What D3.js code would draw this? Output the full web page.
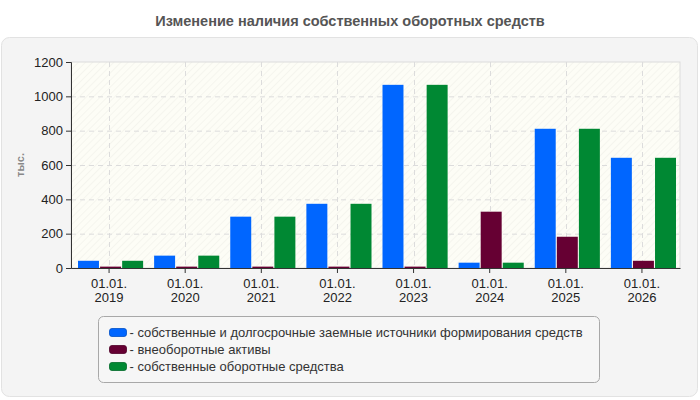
<!DOCTYPE html>
<html lang="ru">
<head>
    <meta charset="UTF-8">
    <title>Изменение наличия собственных оборотных средств</title>
    <script src="https://d3js.org/d3.v7.min.js"></script>
    <style>
        body { margin: 0; background: #fff; }
        svg { font-family: "Liberation Sans", Arial, sans-serif; }
    </style>
</head>
<body>
<div id="chart"></div>
<script>
const width = 700;
const height = 400;

// data
const dates = ["01.01.2019", "01.01.2020", "01.01.2021", "01.01.2022",
               "01.01.2023", "01.01.2024", "01.01.2025", "01.01.2026"];
const sources = [42, 72, 299, 374, 1067, 31, 811, 642];
const fixedAssets = [8, 8, 8, 8, 8, 328, 182, 42];
const workingCapital = [42, 72, 299, 374, 1067, 31, 811, 642];
const yTicks = [0, 200, 400, 600, 800, 1000, 1200];

const seriesNames = [
    "собственные и долгосрочные заемные источники формирования средств",
    "внеоборотные активы",
    "собственные оборотные средства"
];
const seriesColors = ["#0066ff", "#660033", "#008833"];
const seriesValues = [sources, fixedAssets, workingCapital];

const margin = { left: 71, right: 20, top: 62, bottom: 132 };
const plotW = width - margin.left - margin.right;
const plotH = height - margin.top - margin.bottom;
const fontFam = "Liberation Sans, Arial, sans-serif";

const svg = d3.select("#chart").append("svg")
    .attr("width", width)
    .attr("height", height);

// hatch pattern for plot background
const defs = svg.append("defs");
const pat = defs.append("pattern")
    .attr("id", "hatch")
    .attr("width", 5).attr("height", 5)
    .attr("patternUnits", "userSpaceOnUse")
    .attr("patternTransform", "rotate(45)");
pat.append("rect").attr("width", 5).attr("height", 5).attr("fill", "#fdfdf6");
pat.append("line").attr("x1", 0).attr("y1", 0).attr("x2", 0).attr("y2", 5)
    .attr("stroke", "#f0f0ea").attr("stroke-width", 1.2);

// title
svg.append("text")
    .attr("x", width / 2).attr("y", 26)
    .attr("text-anchor", "middle")
    .attr("font-size", 14.5).attr("font-weight", "bold")
    .attr("fill", "#555")
    .text("Изменение наличия собственных оборотных средств");

// outer panel
svg.append("rect")
    .attr("x", 1.5).attr("y", 37.5)
    .attr("width", width - 4).attr("height", height - 41)
    .attr("rx", 8)
    .attr("fill", "#f4f4f4").attr("stroke", "#e2e2e2");

const g = svg.append("g").attr("transform", `translate(${margin.left},${margin.top})`);

const x0 = d3.scaleBand().domain(dates).range([0, plotW]);
const x1 = d3.scaleBand().domain(d3.range(3))
    .range([7, x0.bandwidth() - 4]).paddingInner(0.05);
const y = d3.scaleLinear().domain([0, 1200]).range([plotH, 0]);

g.append("rect")
    .attr("width", plotW).attr("height", plotH)
    .attr("fill", "url(#hatch)")
    .attr("stroke", "#dcdcdc");

// grid
g.append("g").selectAll("line")
    .data(yTicks.slice(1, -1))
    .join("line")
    .attr("x1", 0).attr("x2", plotW)
    .attr("y1", d => y(d) + 0.5).attr("y2", d => y(d) + 0.5)
    .attr("stroke", "#dcdcdc").attr("stroke-dasharray", "5,4");

g.append("g").selectAll("line")
    .data(dates)
    .join("line")
    .attr("x1", d => Math.round(x0(d) + x0.bandwidth() / 2) + 0.5)
    .attr("x2", d => Math.round(x0(d) + x0.bandwidth() / 2) + 0.5)
    .attr("y1", 0).attr("y2", plotH)
    .attr("stroke", "#dcdcdc").attr("stroke-dasharray", "5,4");

// bars
const rows = dates.map((d, i) => ({ date: d, vals: seriesValues.map(s => s[i]) }));
g.append("g").selectAll("g")
    .data(rows)
    .join("g")
    .attr("transform", d => `translate(${x0(d.date)},0)`)
    .selectAll("rect")
    .data(d => d.vals.map((v, k) => ({ k, v })))
    .join("rect")
    .attr("x", d => x1(d.k))
    .attr("width", x1.bandwidth())
    .attr("y", d => y(d.v))
    .attr("height", d => plotH - y(d.v))
    .attr("fill", d => seriesColors[d.k]);

// y axis
const yAxis = g.append("g")
    .call(d3.axisLeft(y).tickValues(yTicks).tickFormat(d3.format("d"))
        .tickSize(5).tickPadding(3));
yAxis.select(".domain").attr("stroke", "#333");
yAxis.selectAll(".tick line").attr("stroke", "#333");
yAxis.selectAll("text").attr("font-size", 13).attr("fill", "#222")
    .attr("font-family", fontFam);

// x axis
const xAxis = g.append("g")
    .attr("transform", `translate(0,${plotH})`)
    .call(d3.axisBottom(x0).tickSize(5).tickSizeOuter(0).tickFormat(""));
xAxis.select(".domain").attr("stroke", "#333");
xAxis.selectAll(".tick line").attr("stroke", "#333");
xAxis.selectAll(".tick").each(function (d) {
    const t = d3.select(this).append("text")
        .attr("text-anchor", "middle")
        .attr("font-size", 13).attr("fill", "#222")
        .attr("font-family", fontFam);
    t.append("tspan").attr("x", 0).attr("y", 20).text(d.slice(0, 6));
    t.append("tspan").attr("x", 0).attr("y", 34).text(d.slice(6));
});

// y label
svg.append("text")
    .attr("transform", `translate(24,${margin.top + plotH / 2}) rotate(-90)`)
    .attr("text-anchor", "middle")
    .attr("font-size", 11).attr("font-weight", "bold")
    .attr("fill", "#888")
    .text("тыс.");

// legend
const legend = svg.append("g").attr("transform", "translate(98.5,316.5)");
legend.append("rect")
    .attr("width", 501).attr("height", 66).attr("rx", 5)
    .attr("fill", "#f6f6f6").attr("stroke", "#a8a8a8");
const item = legend.selectAll("g.item")
    .data(seriesNames)
    .join("g")
    .attr("class", "item")
    .attr("transform", (d, i) => `translate(11,${16 + i * 17})`);
item.append("rect")
    .attr("x", 0).attr("y", -4).attr("width", 17).attr("height", 8).attr("rx", 2.5)
    .attr("fill", (d, i) => seriesColors[i])
    .attr("stroke", (d, i) => d3.color(seriesColors[i]).darker(0.7))
    .attr("stroke-width", 0.8);
item.append("text")
    .attr("x", 20).attr("y", 4.5)
    .attr("font-size", 13).attr("fill", "#333")
    .text(d => "- " + d);
</script>
</body>
</html>
